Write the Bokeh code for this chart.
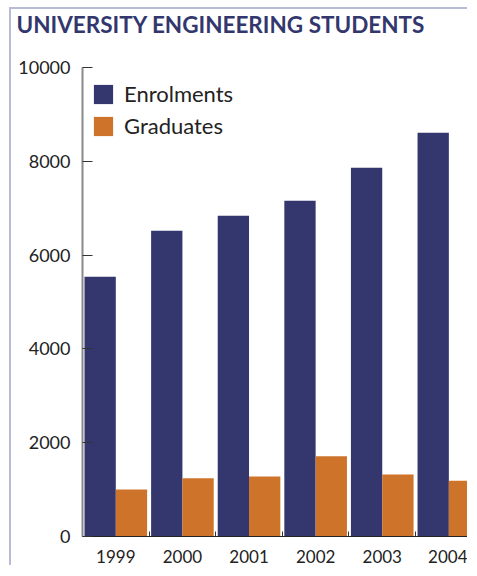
from bokeh.plotting import figure
from bokeh.models import Range1d, FixedTicker, Legend, LegendItem, ColumnDataSource, Title
from bokeh.transform import dodge
from bokeh.embed import file_html
from bokeh.resources import INLINE

# ---- data ----
years = [1999, 2000, 2001, 2002, 2003, 2004]
enrolments = [5540, 6520, 6840, 7160, 7860, 8610]
graduates = [1000, 1240, 1280, 1710, 1320, 1190]
y_ticks = [0, 2000, 4000, 6000, 8000, 10000]
series_names = ["Enrolments", "Graduates"]
title_text = "UNIVERSITY ENGINEERING STUDENTS"

NAVY = "#33376e"
ORANGE = "#cd732a"
FRAME = "#b8bbd6"

src = ColumnDataSource(dict(year=years, enrol=enrolments, grad=graduates))

p = figure(width=458, height=558, output_backend="svg", toolbar_location=None,
           x_range=Range1d(1998.5, 2004.31), y_range=Range1d(0, 10000),
           min_border_left=71, min_border_right=0, min_border_top=0,
           min_border_bottom=31)
p.styles = {"margin-left": "9px", "margin-top": "7px",
            "border-left": f"2px solid {FRAME}", "border-top": f"2px solid {FRAME}"}

r1 = p.vbar(x=dodge("year", -0.235, range=p.x_range), top="enrol", width=0.47,
            source=src, fill_color=NAVY, line_color=None)
r2 = p.vbar(x=dodge("year", 0.235, range=p.x_range), top="grad", width=0.47,
            source=src, fill_color=ORANGE, line_color=None)

# spacer between frame and title (inner panel), then the title (outer panel)
spacer = Title(text=" ", text_font_size="12px", standoff=11, text_color="white")
p.add_layout(spacer, "above")
main_title = Title(text=title_text, text_font="Lato", text_font_style="bold",
                   text_font_size="22.5px", text_color=NAVY, align="left",
                   vertical_align="top", offset=-66, standoff=2)
p.add_layout(main_title, "above")

# axes
p.xgrid.visible = False
p.ygrid.visible = False
p.outline_line_color = None

ya = p.yaxis[0]
ya.ticker = FixedTicker(ticks=y_ticks)
ya.major_tick_in = 10
ya.major_tick_out = 0
ya.minor_tick_line_color = None
ya.axis_line_color = "#8a8a8a"
ya.axis_line_width = 2
ya.major_tick_line_color = "#333333"
ya.major_label_standoff = 12
ya.major_label_text_font = "Lato"
ya.major_label_text_font_size = "18px"
ya.major_label_text_color = "#222222"

xa = p.xaxis[0]
xa.ticker = FixedTicker(ticks=years, minor_ticks=[y - 0.5 for y in years] + [years[-1] + 0.5])
xa.major_tick_line_color = None
xa.minor_tick_in = 5
xa.minor_tick_out = 0
xa.minor_tick_line_color = "#333333"
xa.axis_line_color = "#222222"
xa.major_label_standoff = 7
xa.major_label_text_font = "Lato"
xa.major_label_text_font_size = "17px"
xa.major_label_text_color = "#222222"

legend = Legend(items=[LegendItem(label=series_names[0], renderers=[r1]),
                       LegendItem(label=series_names[1], renderers=[r2])],
                location=(9, 397), glyph_width=24, glyph_height=24, label_height=24,
                spacing=5, padding=0, margin=0, border_line_color=None,
                background_fill_alpha=0, label_text_font="Lato",
                label_text_font_size="22px", label_standoff=9,
                label_text_color="#222222")
p.add_layout(legend)

open("out.html", "w").write(file_html(p, INLINE))
